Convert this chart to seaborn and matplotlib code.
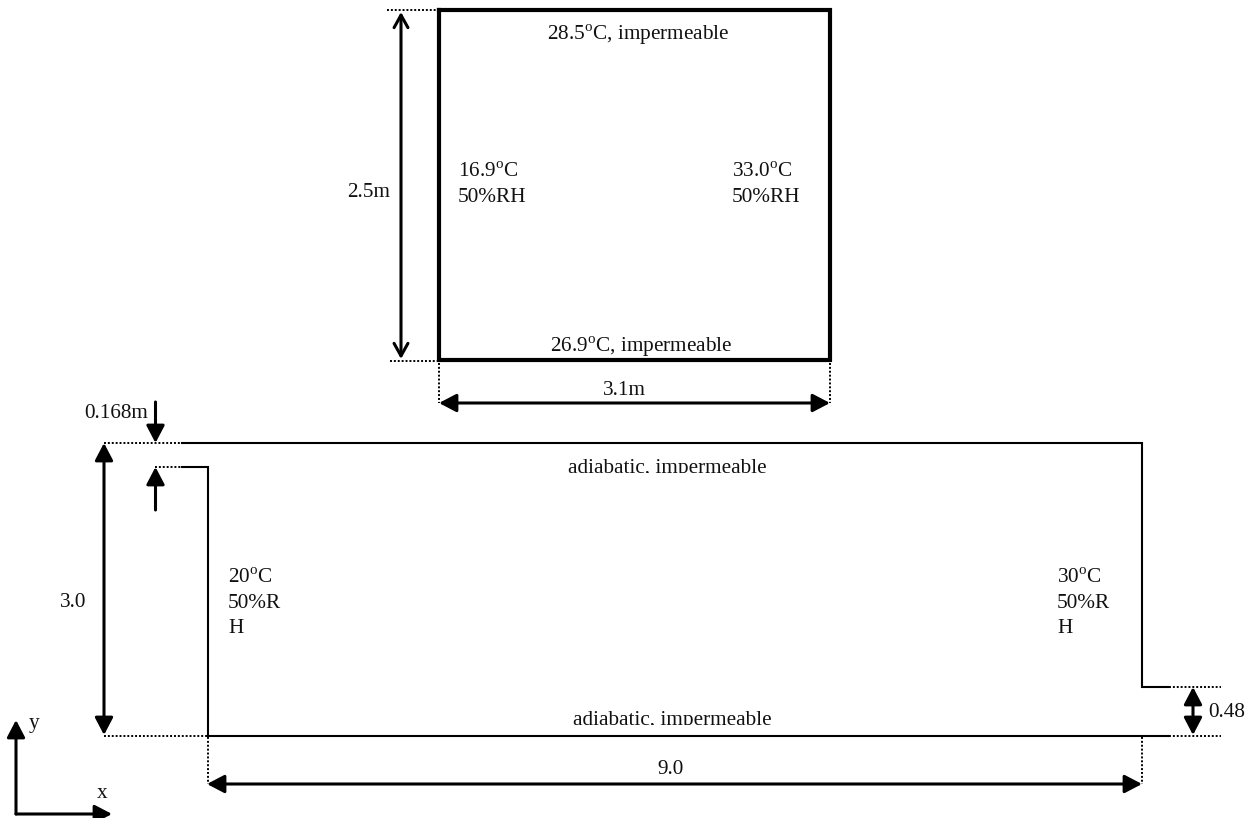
import matplotlib
matplotlib.use('Agg')
import matplotlib.pyplot as plt
import seaborn as sns
from matplotlib.patches import Rectangle

W, H = 1251, 818

# room outlines, picture coordinates
square_x = [439, 830, 830, 439, 439]
square_y = [10, 10, 360, 360, 10]
outer_wall_x = [182, 1142, 1142, 1169]
outer_wall_y = [443, 443, 687, 687]
inner_wall_x = [182, 207.5, 207.5, 1169]
inner_wall_y = [467, 467, 735.5, 735.5]

# dotted guides: x0, y0, x1, y1
guides = [
    (387, 10, 437, 10),
    (390, 361, 437, 361),
    (439, 363, 439, 403),
    (830, 363, 830, 403),
    (104, 443, 182, 443),
    (155, 467, 182, 467),
    (104, 735.5, 207, 735.5),
    (207.5, 737, 207.5, 784),
    (1142, 737, 1142, 784),
    (1169, 687, 1221, 687),
    (1169, 735.5, 1221, 735.5),
]

# arrows: x0, y0, x1, y1
open_double = [(401, 12, 401, 359)]
filled_double = [
    (439, 403, 830, 403),
    (104, 443, 104, 735),
    (207, 784, 1142, 784),
    (1193, 687, 1193, 735),
]
filled_single = [
    (155.5, 402, 155.5, 443),
    (155.5, 510, 155.5, 467),
    (16, 814, 16, 720),
    (16, 814, 112, 814),
]

# labels: text, x, baseline y, alignment
labels = [
    ('28.5$^{\\mathrm{o}}$C, impermeable', 638, 40, 'center'),
    ('26.9$^{\\mathrm{o}}$C, impermeable', 641, 352, 'center'),
    ('16.9$^{\\mathrm{o}}$C', 458, 177, 'left'),
    ('50%RH', 458, 202, 'left'),
    ('33.0$^{\\mathrm{o}}$C', 732, 177, 'left'),
    ('50%RH', 732, 202, 'left'),
    ('2.5m', 347, 197, 'left'),
    ('3.1m', 624, 395, 'center'),
    ('0.168m', 84, 418, 'left'),
    ('3.0', 60, 607, 'left'),
    ('20$^{\\mathrm{o}}$C', 228, 583, 'left'),
    ('50%R', 228, 608, 'left'),
    ('H', 228, 633, 'left'),
    ('30$^{\\mathrm{o}}$C', 1057, 583, 'left'),
    ('50%R', 1057, 608, 'left'),
    ('H', 1057, 633, 'left'),
    ('9.0', 671, 774, 'center'),
    ('0.48', 1208, 717, 'left'),
    ('y', 29, 728, 'left'),
    ('x', 97, 798, 'left'),
]
# these two are cut off just under the baseline in the original
clipped_labels = [
    ('adiabatic, impermeable', 667, 473, 473),
    ('adiabatic, impermeable', 672, 725, 725),
]

sns.set_theme(style='white')
plt.rcParams['font.family'] = ['Liberation Serif', 'DejaVu Serif']
plt.rcParams['mathtext.fontset'] = 'custom'
plt.rcParams['mathtext.rm'] = 'Liberation Serif'

fig = plt.figure(figsize=(W / 100, H / 100), dpi=100)
ax = fig.add_axes([0, 0, 1, 1])


def solid(x, y, lw):
    sns.lineplot(x=x, y=y, sort=False, estimator=None, color='black',
                 linewidth=lw, ax=ax, solid_capstyle='projecting',
                 solid_joinstyle='miter')


def arrow(seg, style, lw=2.2):
    x0, y0, x1, y1 = seg
    ax.annotate('', xy=(x1, y1), xytext=(x0, y0),
                arrowprops=dict(arrowstyle=style, color='black', lw=lw,
                                shrinkA=0, shrinkB=0, mutation_scale=1))


solid(square_x, square_y, 3.0)
solid(outer_wall_x, outer_wall_y, 1.5)
solid(inner_wall_x, inner_wall_y, 1.5)

for x0, y0, x1, y1 in guides:
    ax.plot([x0, x1], [y0, y1], color='black', lw=1.4, linestyle=(0, (1, 1)))

for seg in open_double:
    arrow(seg, '<->,head_length=9,head_width=5')
for seg in filled_double:
    arrow(seg, '<|-|>,head_length=10.5,head_width=5.5')
for seg in filled_single:
    arrow(seg, '-|>,head_length=10.5,head_width=5.5')

for txt, x, y, ha in labels:
    ax.text(x, y, txt, ha=ha, va='baseline', fontsize=15.3, color='#111111')

ax.set_xlim(0, W)
ax.set_ylim(H, 0)

for txt, x, y, cut in clipped_labels:
    t = ax.text(x, y, txt, ha='center', va='baseline', fontsize=15.3, color='#111111')
    t.set_clip_path(Rectangle((0, 0), W, cut, transform=ax.transData))
    t.set_clip_on(True)

ax.set(xlabel='', ylabel='')
ax.axis('off')
fig.savefig('out.png', dpi=100, facecolor='white')
